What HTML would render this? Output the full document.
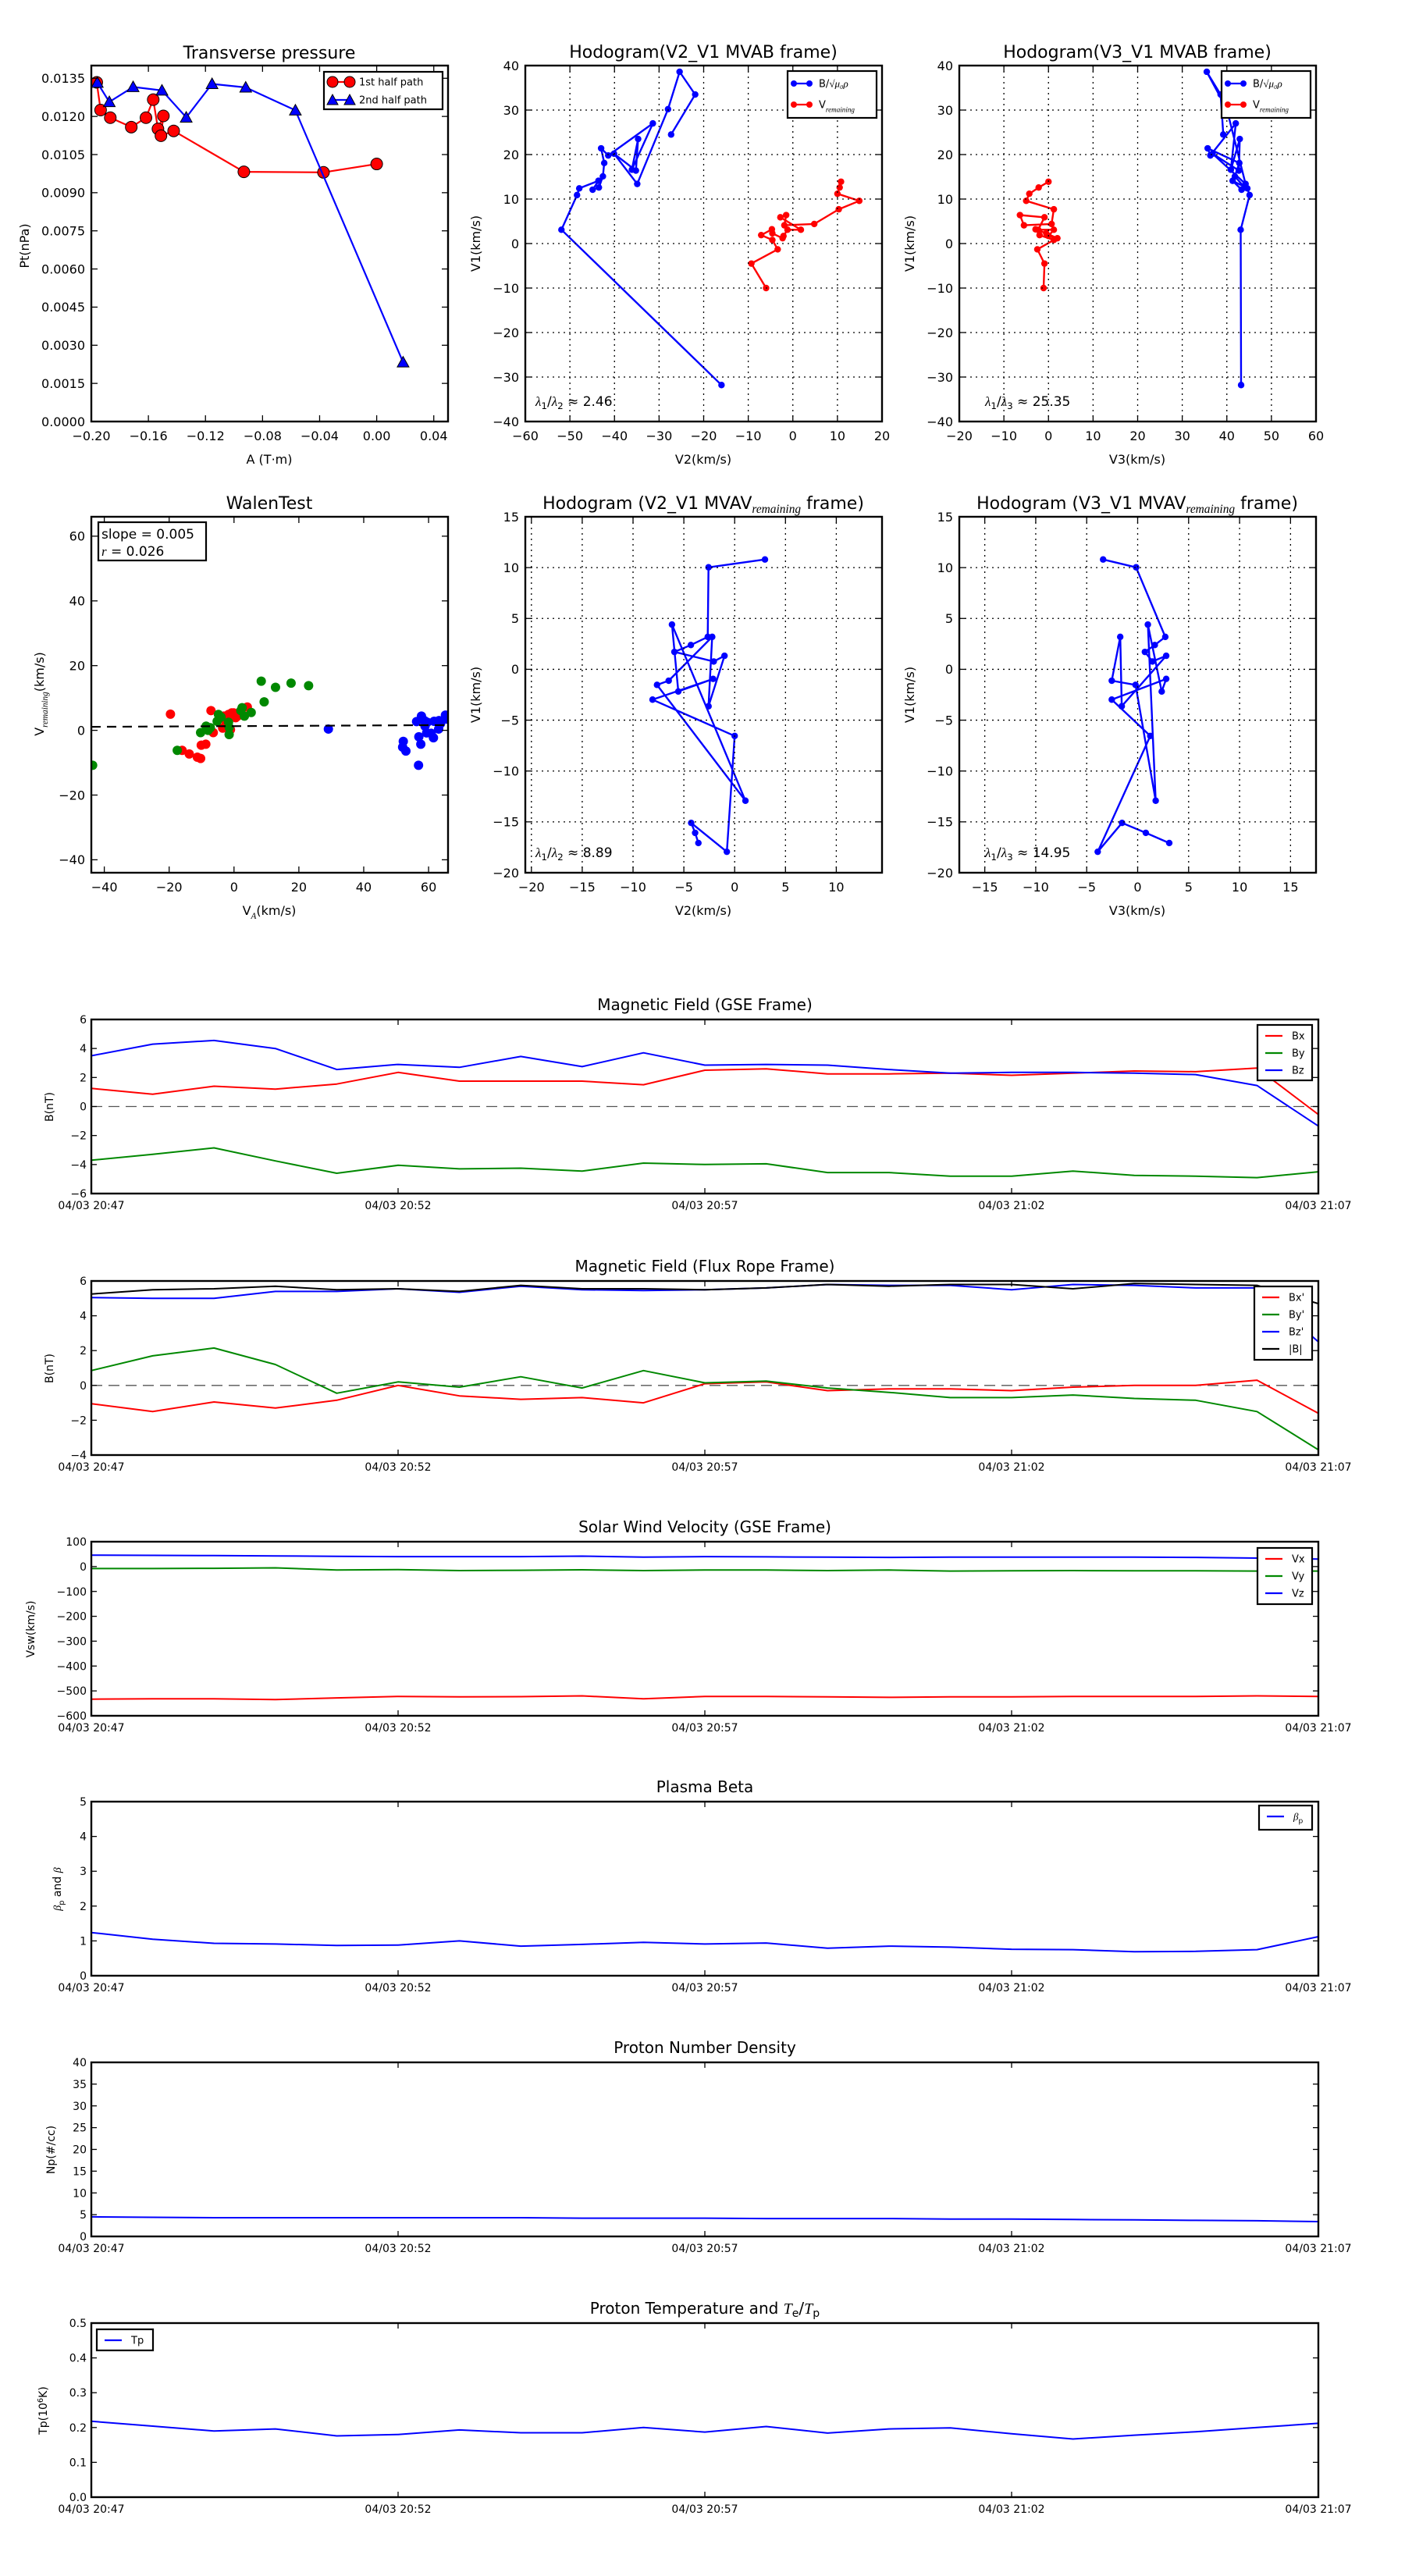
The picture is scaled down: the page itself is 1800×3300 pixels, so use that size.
<!DOCTYPE html>
<html><head><meta charset="utf-8"><title>Flux rope analysis</title>
<style>
html,body{margin:0;padding:0;background:#fff;}
svg{display:block;font-family:"DejaVu Sans","Liberation Sans",sans-serif;}
</style></head>
<body>
<svg id="fig" xmlns="http://www.w3.org/2000/svg" width="1800" height="3300" viewBox="0 0 1800 3300">
<rect x="0" y="0" width="1800" height="3300" fill="#fff"/>
<defs id="defs"></defs>
</svg>
<script>
// ---------- data ----------
const pressRedA=[-0.1962,-0.1935,-0.1867,-0.172,-0.1617,-0.1566,-0.1533,-0.1495,-0.1512,-0.1423,-0.0931,-0.0373,0.0];
const pressRedPt=[0.01334,0.01225,0.01195,0.01158,0.01195,0.01266,0.01151,0.01202,0.01124,0.01143,0.00982,0.0098,0.01013];
const pressBlueA=[-0.1958,-0.1874,-0.1707,-0.1505,-0.1335,-0.1154,-0.0918,-0.057,0.0185];
const pressBluePt=[0.01333,0.01257,0.01316,0.01302,0.01196,0.01328,0.01314,0.01224,0.00233];

const hodoBV2=[-16.0,-51.9,-48.4,-47.9,-43.6,-44.9,-43.5,-42.6,-42.3,-43.0,-41.4,-31.4,-36.1,-34.7,-35.2,-40.1,-34.9,-28.0,-25.4,-21.9,-27.3];
const hodoBV1=[-31.8,3.1,10.9,12.4,14.1,12.1,12.6,15.1,18.1,21.4,19.8,27.0,16.6,23.5,16.4,20.2,13.4,30.2,38.6,33.5,24.5];
const hodoBV3=[43.2,43.1,45.1,44.6,41.3,43.3,44.0,41.8,42.8,35.7,36.3,42.0,40.9,42.9,42.7,36.8,44.2,40.0,35.5,38.6,39.2];
const hodoVV2=[-6.0,-9.3,-3.4,-4.6,-7.1,-4.7,-4.6,-2.3,-2.1,-1.2,1.8,-2.8,-1.5,-1.9,4.8,10.3,14.9,10.0,10.5,10.8];
const hodoVV1=[-10.0,-4.5,-1.3,0.8,1.9,3.2,2.3,1.2,1.7,3.1,3.1,5.9,6.4,4.1,4.4,7.7,9.6,11.2,12.6,13.9];
const hodoVV3=[-1.1,-0.9,-2.5,1.2,-2.0,-2.9,-0.5,2.0,0.0,1.2,-2.3,-0.9,-6.4,-5.5,0.7,1.2,-5.0,-4.3,-2.2,0.0];

const mvavV2=[2.98,-2.57,-2.65,-4.31,-5.93,-2.06,-1.0,-2.57,-2.21,-6.49,-7.64,1.06,-6.17,-5.55,-2.12,-8.08,0.0,-0.77,-4.28,-3.89,-3.57];
const mvavV1=[10.8,10.03,3.19,2.39,1.71,0.77,1.33,-3.63,3.19,-1.12,-1.53,-12.92,4.40,-2.18,-0.94,-2.98,-6.55,-17.94,-15.1,-16.08,-17.08];
const mvavV3=[-3.39,-0.15,2.71,1.68,0.71,1.45,2.8,-1.56,-1.71,-2.54,-0.21,1.77,1.0,2.36,2.8,-2.54,1.24,-3.92,-1.53,0.8,3.1];

const walenRedX=[-19.6,-16.0,-13.8,-11.3,-10.3,-10.1,-8.7,-7.1,-6.4,-3.5,-3.1,-1.7,-0.7,-0.1,0.5,1.1,-1.1,4.1,-2.6];
const walenRedY=[5.0,-6.2,-7.3,-8.3,-8.7,-4.6,-4.3,6.1,-0.7,0.7,4.4,4.9,5.4,5.4,3.9,4.4,0.2,7.2,3.0];
const walenGreenX=[-43.6,-17.5,-10.3,-8.6,-8.0,-7.3,-5.2,-4.8,-4.0,-1.7,-1.5,-1.5,2.1,2.5,3.2,5.3,8.4,9.3,12.8,17.6,23.0];
const walenGreenY=[-10.8,-6.2,-0.7,1.3,0,0.8,2.8,4.9,4.1,2.5,0.9,-1.3,6.1,7.0,4.4,5.5,15.2,8.8,13.3,14.6,13.8];
const walenBlueX=[29.1,52.2,52.0,53.0,56.9,56.3,57.8,58.7,57.0,57.6,58.9,59.4,59.6,60.8,61.5,61.7,63.1,63.2,63.7,65.2,65.6];
const walenBlueY=[0.4,-3.4,-5.2,-6.4,-10.8,2.7,4.4,3.0,-2.0,-4.3,1.3,-0.8,2.5,-0.9,-2.3,2.8,0.4,3.0,2.1,4.7,3.5];
const walenSlope=0.005;
const walenIntercept=1.3;

const tsMinutes=[0,1,2,3,4,5,6,7,8,9,10,11,12,13,14,15,16,17,18,19,20];
const tsTickMinutes=[0,5,10,15,20];
const tsTickLabels=["04/03 20:47","04/03 20:52","04/03 20:57","04/03 21:02","04/03 21:07"];
const bx=[1.25,0.85,1.4,1.2,1.55,2.35,1.75,1.75,1.75,1.5,2.5,2.6,2.25,2.25,2.3,2.15,2.3,2.45,2.4,2.65,-0.55];
const by=[-3.7,-3.3,-2.85,-3.75,-4.6,-4.05,-4.3,-4.25,-4.45,-3.9,-4.0,-3.95,-4.55,-4.55,-4.8,-4.8,-4.45,-4.75,-4.8,-4.9,-4.5];
const bz=[3.5,4.3,4.55,4.0,2.55,2.9,2.7,3.45,2.75,3.7,2.85,2.9,2.85,2.55,2.3,2.35,2.35,2.3,2.2,1.45,-1.35];
const bxp=[-1.05,-1.5,-0.95,-1.3,-0.85,0,-0.6,-0.8,-0.7,-1.0,0.1,0.2,-0.3,-0.2,-0.2,-0.3,-0.1,0.0,0.0,0.3,-1.6];
const byp=[0.85,1.7,2.15,1.2,-0.45,0.2,-0.1,0.5,-0.15,0.85,0.15,0.25,-0.15,-0.4,-0.7,-0.7,-0.55,-0.75,-0.85,-1.5,-3.7];
const bzp=[5.05,5.0,5.0,5.4,5.4,5.55,5.35,5.7,5.5,5.45,5.5,5.6,5.8,5.75,5.75,5.5,5.8,5.75,5.6,5.6,2.5];
const bmag=[5.25,5.5,5.55,5.7,5.5,5.55,5.4,5.75,5.55,5.55,5.5,5.6,5.8,5.7,5.8,5.8,5.55,5.85,5.8,5.75,4.7];
const vx=[-533,-532,-532,-535,-528,-522,-524,-523,-520,-532,-522,-522,-524,-526,-524,-524,-522,-522,-522,-520,-522];
const vy=[-8,-8,-7,-5,-14,-12,-16,-15,-13,-16,-14,-14,-16,-14,-18,-17,-16,-17,-17,-18,-18];
const vz=[46,45,44,43,41,40,40,40,42,38,40,39,38,37,38,38,38,38,37,34,30];
const betaP=[1.24,1.05,0.93,0.91,0.87,0.88,1.0,0.85,0.9,0.96,0.91,0.94,0.79,0.85,0.82,0.76,0.75,0.69,0.7,0.75,1.12];
const npDen=[4.5,4.4,4.3,4.3,4.3,4.3,4.3,4.3,4.2,4.2,4.2,4.1,4.1,4.1,4.0,4.0,3.9,3.8,3.7,3.6,3.4];
const tpTemp=[0.218,0.204,0.19,0.196,0.176,0.18,0.193,0.185,0.185,0.2,0.187,0.203,0.184,0.196,0.199,0.182,0.167,0.178,0.188,0.2,0.212];

// ---------- helpers ----------
const NS="http://www.w3.org/2000/svg";
const svg=document.getElementById('fig');
const defs=document.getElementById('defs');
function mk(tag,attrs,parent){const e=document.createElementNS(NS,tag);for(const k in attrs)e.setAttribute(k,attrs[k]);(parent||svg).appendChild(e);return e;}
function fmt(v,d){const s=Math.abs(v).toFixed(d);return (v<-1e-12?"\u2212":"")+s;}
let clipN=0;
function makeAxes(name,x0,x1,y0,y1,xmin,xmax,ymin,ymax){
  const g=mk('g',{});
  
  
  const id='clip'+(clipN++);
  const cp=mk('clipPath',{id:id},defs);
  mk('rect',{x:x0,y:y0,width:x1-x0,height:y1-y0},cp);
  const ax={g,x0,x1,y0,y1,xmin,xmax,ymin,ymax,clip:'url(#'+id+')',
    sx:v=>x0+(v-xmin)/(xmax-xmin)*(x1-x0),
    sy:v=>y1-(v-ymin)/(ymax-ymin)*(y1-y0)};
  const pg=mk('g',{'clip-path':ax.clip},g);
  
  
  ax.pg=pg;
  return ax;
}
function drawFrame(ax,o){
  const g=ax.g, tl=o.tl||8;
  const tg=mk('g',{},g);
  
  
  o.xt.forEach((v,i)=>{
    const x=ax.sx(v);
    if(o.grid){const gl=mk('line',{x1:x,x2:x,y1:ax.y0,y2:ax.y1,stroke:'#000','stroke-width':1.3,'stroke-dasharray':'2,5'},tg);}
    mk('line',{x1:x,x2:x,y1:ax.y1,y2:ax.y1-tl,stroke:'#000','stroke-width':1.3},tg);
    mk('line',{x1:x,x2:x,y1:ax.y0,y2:ax.y0+tl,stroke:'#000','stroke-width':1.3},tg);
    const t=mk('text',{x:x,y:ax.y1+(o.xly||24),'font-size':o.fs||16,'text-anchor':'middle'},tg);
    t.textContent=o.xl[i];
    
  });
  const yg=mk('g',{},g);
  
  
  o.yt.forEach((v,i)=>{
    const y=ax.sy(v);
    if(o.grid){const gl=mk('line',{x1:ax.x0,x2:ax.x1,y1:y,y2:y,stroke:'#000','stroke-width':1.3,'stroke-dasharray':'2,5'},yg);}
    mk('line',{x1:ax.x0,x2:ax.x0+tl,y1:y,y2:y,stroke:'#000','stroke-width':1.3},yg);
    mk('line',{x1:ax.x1,x2:ax.x1-tl,y1:y,y2:y,stroke:'#000','stroke-width':1.3},yg);
    const t=mk('text',{x:ax.x0-(o.ylx||8),y:y+(o.fs||16)*0.36,'font-size':o.fs||16,'text-anchor':'end'},yg);
    t.textContent=o.yl[i];
    
  });
  const fr=mk('rect',{x:ax.x0,y:ax.y0,width:ax.x1-ax.x0,height:ax.y1-ax.y0,fill:'none',stroke:'#000','stroke-width':2.4},g);
  
  
}
function textAt(parent,name,x,y,size,str,anchor,rot){
  const t=mk('text',{x:x,y:y,'font-size':size,'text-anchor':anchor||'middle'},parent);
  if(rot)t.setAttribute('transform','rotate(-90 '+x+' '+y+')');
  t.innerHTML=str;
  
  
  return t;
}
function polyline(ax,xs,ys,color,w,name){
  const pts=xs.map((v,i)=>ax.sx(v).toFixed(1)+','+ax.sy(ys[i]).toFixed(1)).join(' ');
  const p=mk('polyline',{points:pts,fill:'none',stroke:color,'stroke-width':w,'stroke-linejoin':'round'},ax.pg);
  
  
  return p;
}
function dots(ax,xs,ys,color,r,name,edge){
  const g=mk('g',{},ax.pg);
  
  
  xs.forEach((v,i)=>{
    const c=mk('circle',{cx:ax.sx(v),cy:ax.sy(ys[i]),r:r,fill:color,stroke:edge||'none','stroke-width':1},g);
    
  });
}
function tris(ax,xs,ys,color,s,name){
  const g=mk('g',{},ax.pg);
  
  
  xs.forEach((v,i)=>{
    const x=ax.sx(v),y=ax.sy(ys[i]);
    const p=mk('polygon',{points:`${x},${y-s} ${x-s},${y+s*0.8} ${x+s},${y+s*0.8}`,fill:color,stroke:'#000','stroke-width':1},g);
    
  });
}
function legendBox(name,x,y,w,h){
  const g=mk('g',{});
  
  
  mk('rect',{x:x,y:y,width:w,height:h,fill:'#fff',stroke:'#000','stroke-width':2.2},g);
  return g;
}
function legendEntry(g,name,x,y,color,label,fs,len,marker){
  const e=mk('g',{},g);
  
  
  mk('line',{x1:x,x2:x+len,y1:y,y2:y,stroke:color,'stroke-width':2.2},e);
  if(marker==='dot'){mk('circle',{cx:x,cy:y,r:4,fill:color},e);mk('circle',{cx:x+len,cy:y,r:4,fill:color},e);}
  if(marker==='bigdot'){mk('circle',{cx:x,cy:y,r:7,fill:color,stroke:'#000'},e);mk('circle',{cx:x+len,cy:y,r:7,fill:color,stroke:'#000'},e);}
  if(marker==='tri'){[x,x+len].forEach(cx=>mk('polygon',{points:`${cx},${y-7} ${cx-7},${y+6} ${cx+7},${y+6}`,fill:color,stroke:'#000'},e));}
  const t=mk('text',{x:x+len+12,y:y+fs*0.36,'font-size':fs},e);
  t.innerHTML=label;
}
function range(a,b,s){const r=[];for(let v=a;v<=b+1e-9;v+=s)r.push(+v.toFixed(6));return r;}

const SUB=(s)=>`<tspan font-family="Liberation Serif,serif" font-style="italic" font-size="70%" baseline-shift="-5">${s}</tspan>`;
const SUBP=(s)=>`<tspan font-size="70%" baseline-shift="-4">${s}</tspan>`;
const SUP=(s)=>`<tspan font-size="70%" baseline-shift="5">${s}</tspan>`;
const IT=(s)=>`<tspan font-family="Liberation Serif,serif" font-style="italic">${s}</tspan>`;

// ---------- Panel 1: transverse pressure ----------
{
  const ax=makeAxes('transverse-pressure-chart',117,574,84,540,-0.2,0.05,0,0.014);
  const xt=range(-0.2,0.04,0.04), yt=range(0,0.0135,0.0015);
  drawFrame(ax,{xt,xl:xt.map(v=>fmt(v,2)),yt,yl:yt.map(v=>fmt(v,4))});
  textAt(ax.g,'chart-title',345,75,22,'Transverse pressure');
  textAt(ax.g,'x-axis-title',345,594,16,'A (T·m)');
  textAt(ax.g,'y-axis-title',37,315,16,'Pt(nPa)','middle',true);
  polyline(ax,pressRedA,pressRedPt,'#f00',2.2,'first-half-path-line');
  dots(ax,pressRedA,pressRedPt,'#f00',7.5,'first-half-path-markers','#000');
  polyline(ax,pressBlueA,pressBluePt,'#00f',2.2,'second-half-path-line');
  tris(ax,pressBlueA,pressBluePt,'#00f',7.5,'second-half-path-markers');
  const lg=legendBox('pressure-legend',415,92,152,48);
  legendEntry(lg,'legend-entry-1st-half',426,105,'#f00','1st half path',13,22,'bigdot');
  legendEntry(lg,'legend-entry-2nd-half',426,128,'#00f','2nd half path',13,22,'tri');
}

// ---------- hodogram helper ----------
function hodo(name,x0,y0,xmin,xmax,ymin,ymax,xt,yt,title,xlab,bx_,by_,rx,ry,lam,legend){
  const ax=makeAxes(name,x0,x0+457,y0,y0+456,xmin,xmax,ymin,ymax);
  drawFrame(ax,{xt,xl:xt.map(v=>fmt(v,0)),yt,yl:yt.map(v=>fmt(v,0)),grid:true});
  textAt(ax.g,'chart-title',x0+228,y0-10,22,title);
  textAt(ax.g,'x-axis-title',x0+228,y0+510,16,xlab);
  textAt(ax.g,'y-axis-title',x0-58,y0+228,16,'V1(km/s)','middle',true);
  polyline(ax,bx_,by_,'#00f',2.4,'b-alfven-line');
  dots(ax,bx_,by_,'#00f',4.2,'b-alfven-markers');
  if(rx){polyline(ax,rx,ry,'#f00',2.4,'v-remaining-line');dots(ax,rx,ry,'#f00',4.2,'v-remaining-markers');}
  textAt(ax.g,'eigenvalue-ratio',x0+(lam[0]),y0+436,17,lam[1],'start');
  if(legend){
    const lg=legendBox('hodogram-legend',legend,y0+7,114,60);
    legendEntry(lg,'legend-entry-b-alfven',legend+8,y0+23,'#00f','B/'+IT('√μ₀ρ'),13,20,'dot');
    legendEntry(lg,'legend-entry-v-remaining',legend+8,y0+50,'#f00','V'+SUB('remaining'),13,20,'dot');
  }
  return ax;
}
const LAM=(a,b,v)=>IT('λ')+SUBP(a)+'/'+IT('λ')+SUBP(b)+` ≈ ${v}`;

hodo('hodogram-v2-v1-mvab',673,84,-60,20,-40,40,range(-60,20,10),range(-40,40,10),'Hodogram(V2_V1 MVAB frame)','V2(km/s)',hodoBV2,hodoBV1,hodoVV2,hodoVV1,[13,LAM(1,2,'2.46')],1009);
hodo('hodogram-v3-v1-mvab',1229,84,-20,60,-40,40,range(-20,60,10),range(-40,40,10),'Hodogram(V3_V1 MVAB frame)','V3(km/s)',hodoBV3,hodoBV1,hodoVV3,hodoVV1,[33,LAM(1,3,'25.35')],1565);
hodo('hodogram-v2-v1-mvav',673,662,-20.6,14.5,-20,15,range(-20,10,5),range(-20,15,5),'Hodogram (V2_V1 MVAV'+SUB('remaining')+' frame)','V2(km/s)',mvavV2,mvavV1,null,null,[13,LAM(1,2,'8.89')],0);
hodo('hodogram-v3-v1-mvav',1229,662,-17.5,17.5,-20,15,range(-15,15,5),range(-20,15,5),'Hodogram (V3_V1 MVAV'+SUB('remaining')+' frame)','V3(km/s)',mvavV3,mvavV1,null,null,[33,LAM(1,3,'14.95')],0);

// ---------- Walen test ----------
{
  const ax=makeAxes('walen-test-chart',117,574,662,1118,-44,66,-44,66);
  const t=range(-40,60,20);
  drawFrame(ax,{xt:t,xl:t.map(v=>fmt(v,0)),yt:t,yl:t.map(v=>fmt(v,0))});
  textAt(ax.g,'chart-title',345,652,22,'WalenTest');
  textAt(ax.g,'x-axis-title',345,1172,16,'V'+SUB('A')+'(km/s)');
  textAt(ax.g,'y-axis-title',56,889,16,'V'+SUB('remaining')+'(km/s)','middle',true);
  dots(ax,walenRedX,walenRedY,'#f00',6,'walen-red-points');
  dots(ax,walenGreenX,walenGreenY,'#080',6,'walen-green-points');
  dots(ax,walenBlueX,walenBlueY,'#00f',6,'walen-blue-points');
  const fl=mk('line',{x1:ax.sx(-44),x2:ax.sx(66),y1:ax.sy(walenIntercept+walenSlope*-44),y2:ax.sy(walenIntercept+walenSlope*66),stroke:'#000','stroke-width':2.2,'stroke-dasharray':'12,8'},ax.pg);
  
  
  const lg=legendBox('fit-stats-box',126,669,138,49);
  textAt(lg,'slope-text',130,690,17,'slope = 0.005','start');
  textAt(lg,'r-text',130,712,17,IT('r')+' = 0.026','start');
}

// ---------- time series ----------
function ts(name,top,ymin,ymax,yt,yd,title,ylab,ylabX,series,legend,zero){
  const ax=makeAxes(name,117,1689,top,top+223,0,20,ymin,ymax);
  drawFrame(ax,{xt:tsTickMinutes,xl:tsTickLabels,yt,yl:yt.map(v=>fmt(v,yd)),fs:14,xly:20,ylx:6,tl:7});
  textAt(ax.g,'chart-title',903,top-12,20,title);
  textAt(ax.g,'y-axis-title',ylabX,top+112,14,ylab,'middle',true);
  if(zero){const z=mk('line',{x1:117,x2:1689,y1:ax.sy(0),y2:ax.sy(0),stroke:'#555','stroke-width':1.3,'stroke-dasharray':'14,8'},ax.pg);}
  series.forEach(s=>polyline(ax,tsMinutes,s[0],s[1],2,s[2]));
  if(legend){
    const lg=legendBox('legend',legend[0],legend[1],legend[2],legend[3]);
    series.forEach((s,i)=>legendEntry(lg,'legend-entry-'+s[2],legend[0]+10,legend[1]+14+i*22,s[1],s[3],13,22));
  }
}
ts('magnetic-field-gse-chart',1306,-6,6,range(-6,6,2),0,'Magnetic Field (GSE Frame)','B(nT)',68,
  [[bx,'#f00','bx','Bx'],[by,'#080','by','By'],[bz,'#00f','bz','Bz']],[1611,1313,70,71],true);
ts('magnetic-field-flux-rope-chart',1641,-4,6,range(-4,6,2),0,'Magnetic Field (Flux Rope Frame)','B(nT)',68,
  [[bxp,'#f00','bx-prime',"Bx'"],[byp,'#080','by-prime',"By'"],[bzp,'#00f','bz-prime',"Bz'"],[bmag,'#000','b-magnitude','|B|']],[1607,1648,74,94],true);
ts('solar-wind-velocity-chart',1975,-600,100,range(-600,100,100),0,'Solar Wind Velocity (GSE Frame)','Vsw(km/s)',44,
  [[vx,'#f00','vx','Vx'],[vy,'#080','vy','Vy'],[vz,'#00f','vz','Vz']],[1611,1983,70,72],false);
ts('plasma-beta-chart',2308,0,5,range(0,5,1),0,'Plasma Beta',IT('β')+SUBP('p')+' and '+IT('β'),78,
  [[betaP,'#00f','beta-p',IT('β')+SUBP('p')]],[1613,2313,68,31],false);
ts('proton-density-chart',2642,0,40,range(0,40,5),0,'Proton Number Density','Np(#/cc)',70,
  [[npDen,'#00f','np','Np']],null,false);
ts('proton-temperature-chart',2976,0,0.5,range(0,0.5,0.1),1,'Proton Temperature and '+IT('T')+SUBP('e')+'/'+IT('T')+SUBP('p'),'Tp(10'+SUP('6')+'K)',60,
  [[tpTemp,'#00f','tp','Tp']],[124,2984,72,27],false);
</script>
</body></html>
